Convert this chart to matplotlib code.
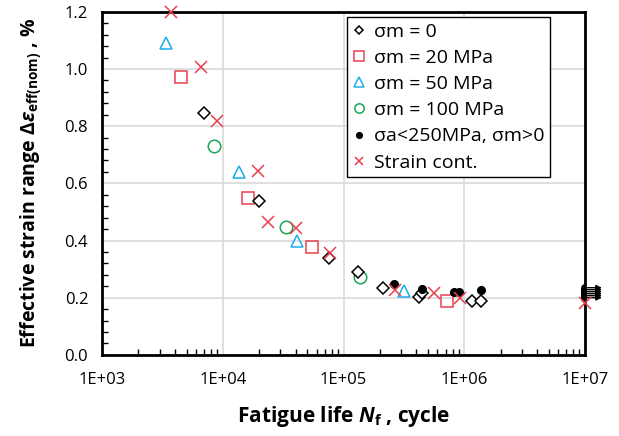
import numpy as np
import matplotlib
matplotlib.use("Agg")
import matplotlib.pyplot as plt
from matplotlib.ticker import MultipleLocator, LogLocator, FixedLocator

plt.rcParams['font.family'] = ['Open Sans', 'DejaVu Sans']
plt.rcParams['mathtext.fontset'] = 'custom'
plt.rcParams['mathtext.rm'] = 'Open Sans:bold'
plt.rcParams['mathtext.it'] = 'Open Sans:italic:bold'
plt.rcParams['mathtext.bf'] = 'Open Sans:bold'

# sigma_m = 0
n_m0 = [7000, 20000, 76000, 132000, 212000, 425000, 445000, 1160000, 1380000]
e_m0 = [0.846, 0.538, 0.339, 0.290, 0.234, 0.203, 0.215, 0.189, 0.189]
# sigma_m = 20 MPa
n_m20 = [4500, 16200, 54800, 720000]
e_m20 = [0.972, 0.549, 0.378, 0.190]
# sigma_m = 50 MPa
n_m50 = [3390, 13600, 41200, 317000]
e_m50 = [1.090, 0.640, 0.399, 0.222]
# sigma_m = 100 MPa
n_m100 = [8470, 33400, 137000]
e_m100 = [0.731, 0.448, 0.273]
# sigma_a < 250 MPa, sigma_m > 0
n_sa = [262000, 446000, 830000, 900000, 1380000]
e_sa = [0.248, 0.231, 0.220, 0.220, 0.226]
# strain controlled
n_sc = [3730, 6600, 8960, 19600, 23700, 40400, 77300, 267000, 563000, 922000, 1e7]
e_sc = [1.200, 1.007, 0.818, 0.643, 0.465, 0.444, 0.357, 0.227, 0.217, 0.199, 0.182]
# run-outs at 1E+07
n_ro = [1e7, 1e7, 1e7, 1e7, 1e7, 1e7]
e_ro = [0.200, 0.207, 0.214, 0.221, 0.228, 0.235]

red = '#E8414E'
blue = '#1AAEEB'
green = '#1AA557'

fig = plt.figure(figsize=(6.19, 4.36), dpi=100)
ax = fig.add_axes([0.165, 0.186, 0.780, 0.787])

ax.plot(n_m0, e_m0, ls='none', marker='D', ms=6, mfc='white', mec='black', mew=1.1, label='σm = 0', zorder=4)
ax.plot(n_m20, e_m20, ls='none', marker='s', ms=9, mfc='none', mec=red, mew=1.1, label='σm = 20 MPa', zorder=3)
ax.plot(n_m50, e_m50, ls='none', marker='^', ms=9, mfc='none', mec=blue, mew=1.1, label='σm = 50 MPa', zorder=3)
ax.plot(n_m100, e_m100, ls='none', marker='o', ms=9, mfc='none', mec=green, mew=1.1, label='σm = 100 MPa', zorder=3)
ax.plot(n_sa + n_ro, e_sa + e_ro, ls='none', marker='o', ms=5.5, mfc='black', mec='black',
        label='σa<250MPa, σm>0', zorder=5)
ax.plot(n_sc, e_sc, ls='none', marker='x', ms=8, mec=red, mew=1.1, label='Strain cont.', zorder=6,
        clip_on=False)

# run-out arrows
for n, e in zip(n_ro, e_ro):
    ax.annotate('', xy=(n * 1.38, e), xytext=(n, e), annotation_clip=False,
                arrowprops=dict(arrowstyle='-|>', color='black', lw=1.0,
                                mutation_scale=8, shrinkA=0, shrinkB=0))

ax.set_xscale('log')
ax.set_xlim(1e3, 1e7)
ax.set_ylim(0, 1.2)
ax.xaxis.set_major_locator(FixedLocator([1e3, 1e4, 1e5, 1e6, 1e7]))
ax.xaxis.set_minor_locator(LogLocator(base=10, subs=np.arange(2, 10)))
ax.set_xticklabels(['1E+03', '1E+04', '1E+05', '1E+06', '1E+07'])
ax.yaxis.set_major_locator(MultipleLocator(0.2))
ax.yaxis.set_minor_locator(MultipleLocator(0.04))
ax.yaxis.set_major_formatter(plt.FuncFormatter(lambda v, p: '%.1f' % v))

ax.tick_params(which='both', direction='in', labelsize=12, colors='black')
ax.tick_params(which='major', length=0, pad=10)
ax.tick_params(which='minor', length=4, width=1)
ax.tick_params(axis='x', which='major', pad=12)
ax.grid(True, which='major', color='#D9D9D9', lw=1.2)
ax.set_axisbelow(True)
for s in ax.spines.values():
    s.set_linewidth(2)
    s.set_color('black')

ax.set_xlabel(r'Fatigue life $\mathit{N}_\mathrm{f}$ , cycle', fontsize=15, fontweight='bold', labelpad=12)
ax.set_ylabel(r'Effective strain range $\mathit{\Delta\varepsilon}_\mathrm{eff(nom)}$ , %', fontsize=14,
              fontweight='bold', labelpad=14)

leg = ax.legend(loc='upper left', bbox_to_anchor=(0.507, 0.985), fontsize=14, frameon=True,
                fancybox=False, edgecolor='black', framealpha=1, markerscale=0.75,
                handlelength=0.6, handletextpad=0.5, borderpad=0.3, labelspacing=0.42,
                borderaxespad=0)
leg.get_frame().set_linewidth(1.0)

fig.savefig('out.png', dpi=100)
